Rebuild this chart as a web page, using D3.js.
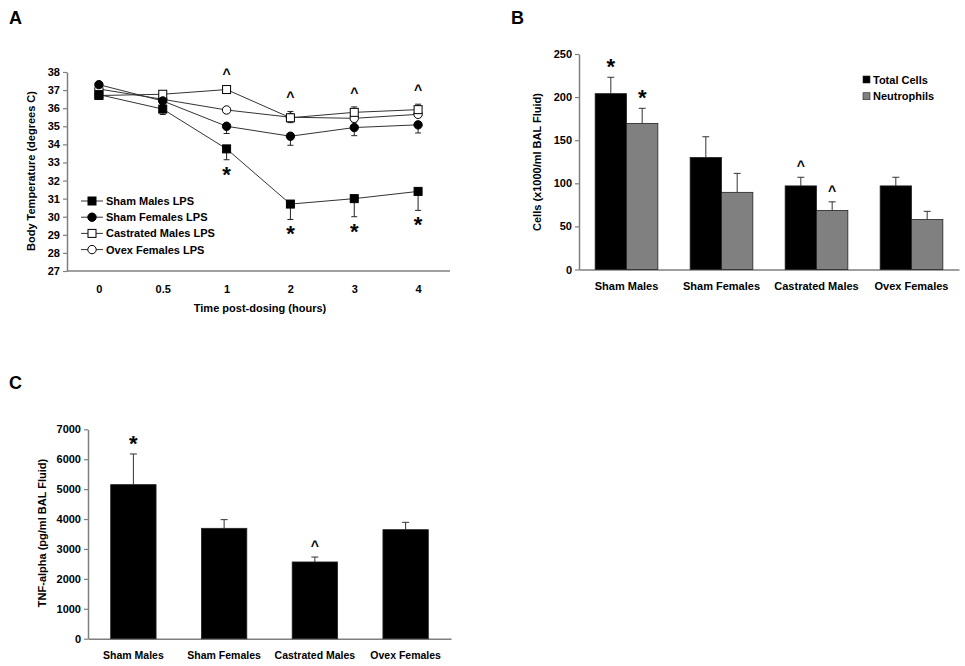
<!DOCTYPE html>
<html><head><meta charset="utf-8">
<script src="https://cdn.jsdelivr.net/npm/d3@7/dist/d3.min.js"></script>
<style>
body{margin:0;background:#fff;}
text{font-family:"Liberation Sans",Arial,sans-serif;font-weight:bold;fill:#000;}
</style></head><body>
<svg id="c" width="965" height="666"></svg>
<script>
// ---------- Panel A data ----------
const timePoints = ["0","0.5","1","2","3","4"];
const tempTicks = [27,28,29,30,31,32,33,34,35,36,37,38];
const shamMalesTemp   = [36.75,35.95,33.75,30.7,31.0,31.4];
const shamMalesErr    = [0.1,0.3,0.6,0.85,1.0,1.05];
const shamFemalesTemp = [37.3,36.4,35.0,34.45,34.93,35.08];
const shamFemalesErr  = [0.1,0.25,0.4,0.5,0.45,0.45];
const castMalesTemp   = [36.7,36.77,37.03,35.47,35.77,35.92];
const castMalesErr    = [0.1,0.1,0.1,0.35,0.3,0.3];
const ovexFemalesTemp = [37.06,36.49,35.9,35.5,35.44,35.66];
const ovexFemalesErr  = [0.1,0.15,0.15,0.3,0.2,0.15];
const seriesNames = ["Sham Males LPS","Sham Females LPS","Castrated Males LPS","Ovex Females LPS"];
const caretPointsA = ["1","2","3","4"];
const starPointsA = ["1","2","3","4"];

// ---------- Panel B data ----------
const groups = ["Sham Males","Sham Females","Castrated Males","Ovex Females"];
const cellTicks = [0,50,100,150,200,250];
const totalCells = [204,130,97,97];
const totalCellsErr = [19,24,10,10];
const neutrophils = [169.5,89.5,68.5,58];
const neutrophilsErr = [17.5,22,10,9.5];
const cellSeries = ["Total Cells","Neutrophils"];

// ---------- Panel C data ----------
const tnfTicks = [0,1000,2000,3000,4000,5000,6000,7000];
const tnf = [5150,3690,2565,3645];
const tnfErr = [1025,290,165,245];

const svg = d3.select("#c");
const axisGray = "#7f7f7f";

function styleAxis(g){
  g.selectAll(".domain").attr("stroke",axisGray).attr("stroke-width",1.5);
  g.selectAll(".tick line").attr("stroke",axisGray).attr("stroke-width",1.2);
  g.selectAll(".tick text").style("font-family","'Liberation Sans',Arial,sans-serif").style("font-weight","bold").attr("font-size",11).attr("fill","#000");
}

// Panel labels
svg.append("text").attr("x",9).attr("y",24).attr("font-size",18).text("A");
svg.append("text").attr("x",511).attr("y",24).attr("font-size",18).text("B");
svg.append("text").attr("x",9).attr("y",389).attr("font-size",18).text("C");

// ================= Panel A =================
(function(){
  const x = d3.scalePoint().domain(timePoints).range([67,450]).padding(0.5);
  const y = d3.scaleLinear().domain([27,38]).range([271,72]);
  const gy = svg.append("g").attr("transform","translate(67,0)")
    .call(d3.axisLeft(y).tickValues(tempTicks).tickSize(4).tickSizeOuter(0));
  styleAxis(gy);
  const gx = svg.append("g").attr("transform","translate(0,271)")
    .call(d3.axisBottom(x).tickSize(0).tickPadding(14));
  gx.select(".domain").attr("d","M67,0H450");
  styleAxis(gx);

  svg.append("text").attr("transform","translate(35,171) rotate(-90)").attr("text-anchor","middle")
    .attr("font-size",11).text("Body Temperature (degrees C)");
  svg.append("text").attr("x",260).attr("y",312).attr("text-anchor","middle").attr("font-size",11)
    .text("Time post-dosing (hours)");

  const series = [
    {name:seriesNames[0], v:shamMalesTemp, e:shamMalesErr, dir:1, shape:"square", fill:"#000"},
    {name:seriesNames[1], v:shamFemalesTemp, e:shamFemalesErr, dir:1, shape:"circle", fill:"#000"},
    {name:seriesNames[2], v:castMalesTemp, e:castMalesErr, dir:-1, shape:"square", fill:"#fff"},
    {name:seriesNames[3], v:ovexFemalesTemp, e:ovexFemalesErr, dir:1, shape:"circle", fill:"#fff"}
  ];
  const line = d3.line().x((d,i)=>x(timePoints[i])).y(d=>y(d));
  series.forEach(s=>{
    const g = svg.append("g");
    s.v.forEach((v,i)=>{
      const cx = x(timePoints[i]);
      const y1 = y(v - s.dir*s.e[i]);
      g.append("line").attr("x1",cx).attr("x2",cx).attr("y1",y(v)).attr("y2",y1).attr("stroke","#222").attr("stroke-width",1);
      g.append("line").attr("x1",cx-3).attr("x2",cx+3).attr("y1",y1).attr("y2",y1).attr("stroke","#222").attr("stroke-width",1);
    });
  });
  series.forEach(s=>{
    svg.append("path").datum(s.v).attr("d",line).attr("fill","none").attr("stroke","#333").attr("stroke-width",1);
  });
  function marker(g,shape,fill,cx,cy){
    if(shape==="square"){
      g.append("rect").attr("x",cx-4).attr("y",cy-4).attr("width",8).attr("height",8)
        .attr("fill",fill).attr("stroke","#000").attr("stroke-width",1);
    } else {
      g.append("circle").attr("cx",cx).attr("cy",cy).attr("r",4.2)
        .attr("fill",fill).attr("stroke","#000").attr("stroke-width",1);
    }
  }
  [3,2,1,0].forEach(k=>{
    const s = series[k];
    const g = svg.append("g");
    s.v.forEach((v,i)=>marker(g,s.shape,s.fill,x(timePoints[i]),y(v)));
  });
  caretPointsA.forEach(t=>{
    const i = timePoints.indexOf(t);
    svg.append("text").attr("x",x(t)).attr("y",y(castMalesTemp[i]+castMalesErr[i])-9).attr("text-anchor","middle")
      .attr("font-size",14).attr("font-weight","normal").text("^");
  });
  starPointsA.forEach(t=>{
    const i = timePoints.indexOf(t);
    svg.append("text").attr("x",x(t)).attr("y",y(shamMalesTemp[i]-shamMalesErr[i])+22).attr("text-anchor","middle")
      .attr("font-size",22).text("*");
  });
  const lg = svg.append("g");
  series.forEach((s,i)=>{
    const ly = 201 + i*16.2;
    lg.append("line").attr("x1",81).attr("x2",103).attr("y1",ly).attr("y2",ly).attr("stroke","#333").attr("stroke-width",1);
    marker(lg,s.shape,s.fill,92,ly);
    lg.append("text").attr("x",106).attr("y",ly+4).attr("font-size",11).text(s.name);
  });
})();

// ================= Panel B =================
(function(){
  const x0 = d3.scaleBand().domain(groups).range([579,959]).paddingInner(0.34).paddingOuter(0.17);
  const x1 = d3.scaleBand().domain(cellSeries).range([0,x0.bandwidth()]);
  const y = d3.scaleLinear().domain([0,250]).range([269.5,54]);
  const gy = svg.append("g").attr("transform","translate(579,0)")
    .call(d3.axisLeft(y).tickValues(cellTicks).tickSize(4).tickSizeOuter(0));
  styleAxis(gy);
  const gx = svg.append("g").attr("transform","translate(0,269.5)")
    .call(d3.axisBottom(x0).tickSize(0).tickPadding(13).tickSizeOuter(0));
  styleAxis(gx);
  svg.append("text").attr("transform","translate(541,162) rotate(-90)").attr("text-anchor","middle")
    .attr("font-size",11).text("Cells (x1000/ml BAL Fluid)");
  const colors = {"Total Cells":"#000","Neutrophils":"#808080"};
  const vals = {"Total Cells":[totalCells,totalCellsErr],"Neutrophils":[neutrophils,neutrophilsErr]};
  cellSeries.forEach(s=>{
    groups.forEach((gname,i)=>{
      const v = vals[s][0][i], e = vals[s][1][i];
      const bx = x0(gname)+x1(s), bw = x1.bandwidth(), cx = bx+bw/2;
      svg.append("line").attr("x1",cx).attr("x2",cx).attr("y1",y(v)).attr("y2",y(v+e)).attr("stroke","#333").attr("stroke-width",1);
      svg.append("line").attr("x1",cx-3.5).attr("x2",cx+3.5).attr("y1",y(v+e)).attr("y2",y(v+e)).attr("stroke","#333").attr("stroke-width",1);
      svg.append("rect").attr("x",bx).attr("y",y(v)).attr("width",bw).attr("height",y(0)-y(v))
        .attr("fill",colors[s]).attr("stroke","#222").attr("stroke-width",0.8);
    });
  });
  [["Sham Males","Total Cells","*"],["Sham Males","Neutrophils","*"],["Castrated Males","Total Cells","^"],["Castrated Males","Neutrophils","^"]].forEach(a=>{
    const i = groups.indexOf(a[0]);
    const v = vals[a[1]][0][i]+vals[a[1]][1][i];
    const cx = x0(a[0])+x1(a[1])+x1.bandwidth()/2;
    if(a[2]==="*") svg.append("text").attr("x",cx).attr("y",y(v)-3).attr("text-anchor","middle").attr("font-size",22).text("*");
    else svg.append("text").attr("x",cx).attr("y",y(v)-6).attr("text-anchor","middle").attr("font-size",14).attr("font-weight","normal").text("^");
  });
  cellSeries.forEach((s,i)=>{
    const ly = 79.5 + i*16.7;
    svg.append("rect").attr("x",863).attr("y",ly-3.5).attr("width",7).attr("height",7).attr("fill",colors[s]).attr("stroke","#222").attr("stroke-width",0.6);
    svg.append("text").attr("x",873).attr("y",ly+4).attr("font-size",11).text(s);
  });
})();

// ================= Panel C =================
(function(){
  const x = d3.scaleBand().domain(groups).range([88,451]).paddingInner(0.5).paddingOuter(0.25);
  const y = d3.scaleLinear().domain([0,7000]).range([638.7,429.3]);
  const gy = svg.append("g").attr("transform","translate(88,0)")
    .call(d3.axisLeft(y).tickValues(tnfTicks).tickFormat(d3.format("d")).tickSize(4).tickSizeOuter(0));
  styleAxis(gy);
  const gx = svg.append("g").attr("transform","translate(0,638.7)")
    .call(d3.axisBottom(x).tickSize(0).tickPadding(13).tickSizeOuter(0));
  styleAxis(gx);
  gx.selectAll(".tick text").attr("font-size",10.5);
  svg.append("text").attr("transform","translate(46,533) rotate(-90)").attr("text-anchor","middle")
    .attr("font-size",11).text("TNF-alpha (pg/ml BAL Fluid)");
  groups.forEach((gname,i)=>{
    const v = tnf[i], e = tnfErr[i];
    const bx = x(gname), bw = x.bandwidth(), cx = bx+bw/2;
    svg.append("line").attr("x1",cx).attr("x2",cx).attr("y1",y(v)).attr("y2",y(v+e)).attr("stroke","#333").attr("stroke-width",1);
    svg.append("line").attr("x1",cx-3.5).attr("x2",cx+3.5).attr("y1",y(v+e)).attr("y2",y(v+e)).attr("stroke","#333").attr("stroke-width",1);
    svg.append("rect").attr("x",bx).attr("y",y(v)).attr("width",bw).attr("height",y(0)-y(v))
      .attr("fill","#000").attr("stroke","#222").attr("stroke-width",0.8);
  });
  const c0 = x("Sham Males")+x.bandwidth()/2;
  svg.append("text").attr("x",c0).attr("y",y(tnf[0]+tnfErr[0])-3).attr("text-anchor","middle").attr("font-size",22).text("*");
  const c2 = x("Castrated Males")+x.bandwidth()/2;
  svg.append("text").attr("x",c2).attr("y",y(tnf[2]+tnfErr[2])-6).attr("text-anchor","middle").attr("font-size",14).attr("font-weight","normal").text("^");
})();
</script>
</body></html>
